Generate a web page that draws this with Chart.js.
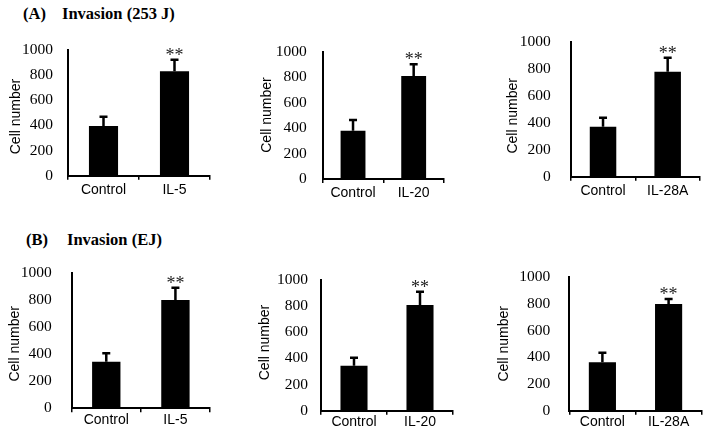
<!DOCTYPE html>
<html>
<head>
<meta charset="utf-8">
<script src="https://cdn.jsdelivr.net/npm/chart.js@4.4.0/dist/chart.umd.min.js"></script>
<style>
html, body { margin: 0; padding: 0; background: #fff; width: 706px; height: 433px; overflow: hidden; position: relative; }
.panel { position: absolute; }
.head { position: absolute; font: bold 16.5px "Liberation Serif", serif; color: #000; white-space: nowrap; line-height: 1; }
</style>
</head>
<body>
<div class="head" id="hA1" style="left:23px;top:6px"></div>
<div class="head" id="hA2" style="left:62px;top:6px"></div>
<div class="head" id="hB1" style="left:26px;top:232px"></div>
<div class="head" id="hB2" style="left:67px;top:232px"></div>
<script>
// data
const sectionLabels = ['(A)', '(B)'];
const sectionTitles = ['Invasion (253 J)', 'Invasion (EJ)'];
const categories = [
    ['Control', 'IL-5'], ['Control', 'IL-20'], ['Control', 'IL-28A'],
    ['Control', 'IL-5'], ['Control', 'IL-20'], ['Control', 'IL-28A']
];
const means = [[395, 831], [379, 810], [370, 778], [345, 802], [344, 809], [363, 800]];
const errors = [[74, 91], [84, 92], [67, 103], [62, 91], [61, 101], [72, 37]];
const stars = ['', '**'];
const yMax = 1000;
const yStep = 200;
const yTitle = 'Cell number';

// where each plot area sits on the page
const panels = [
    {left: 68, right: 210, top: 50, bottom: 175.7, titleX: 16, titleY: 116.5, gap: 15, xPad: 2},
    {left: 322.7, right: 444, top: 51.7, bottom: 179, titleX: 266.7, titleY: 115, gap: 16, xPad: 2},
    {left: 570.7, right: 700, top: 41.7, bottom: 176.7, titleX: 513, titleY: 115.8, gap: 20, xPad: 2},
    {left: 71.7, right: 210, top: 273.3, bottom: 408.3, titleX: 14.7, titleY: 343.8, gap: 20, xPad: -1},
    {left: 321, right: 453, top: 280, bottom: 410.7, titleX: 265, titleY: 342.5, gap: 13, xPad: -1},
    {left: 569.3, right: 701.7, top: 277.3, bottom: 410.7, titleX: 504.5, titleY: 343.8, gap: 19, xPad: -1}
];

document.getElementById('hA1').textContent = sectionLabels[0];
document.getElementById('hA2').textContent = sectionTitles[0];
document.getElementById('hB1').textContent = sectionLabels[1];
document.getElementById('hB2').textContent = sectionTitles[1];

const errorBars = {
    id: 'errorBars',
    afterDatasetsDraw(chart) {
        const ctx = chart.ctx;
        const y = chart.scales.y;
        const opts = chart.options.plugins.errorBars;
        const vals = chart.data.datasets[0].data;
        chart.getDatasetMeta(0).data.forEach((bar, i) => {
            const top = y.getPixelForValue(vals[i] + opts.errors[i]);
            ctx.save();
            ctx.strokeStyle = '#000';
            ctx.lineWidth = 2.5;
            ctx.beginPath();
            ctx.moveTo(bar.x, bar.y);
            ctx.lineTo(bar.x, top);
            ctx.moveTo(bar.x - 4, top);
            ctx.lineTo(bar.x + 4, top);
            ctx.stroke();
            if (opts.stars[i]) {
                ctx.fillStyle = '#222';
                ctx.font = '18px "Liberation Serif"';
                ctx.textAlign = 'center';
                ctx.textBaseline = 'alphabetic';
                ctx.fillText(opts.stars[i], bar.x, top + 1);
            }
            ctx.restore();
        });
    }
};

const axisTitle = {
    id: 'axisTitle',
    afterDraw(chart) {
        const o = chart.options.plugins.axisTitle;
        const ctx = chart.ctx;
        ctx.save();
        ctx.translate(o.x, o.y);
        ctx.rotate(-Math.PI / 2);
        ctx.fillStyle = '#000';
        ctx.font = '14px "Liberation Sans"';
        ctx.textAlign = 'center';
        ctx.textBaseline = 'middle';
        ctx.fillText(o.text, 0, 0);
        ctx.restore();
    }
};

panels.forEach((p, i) => {
    const cl = Math.round(p.titleX - 10);
    const ct = Math.round(p.top - 22);
    const cw = Math.ceil(p.right + 3 - cl);
    const ch = Math.min(Math.ceil(p.bottom + 26 - ct), 433 - ct);
    const wy = p.left - cl;
    const hx = ch - (p.bottom - ct);

    const box = document.createElement('div');
    box.className = 'panel';
    box.style.left = cl + 'px';
    box.style.top = ct + 'px';
    box.style.width = cw + 'px';
    box.style.height = ch + 'px';
    const canvas = document.createElement('canvas');
    canvas.width = cw;
    canvas.height = ch;
    box.appendChild(canvas);
    document.body.appendChild(box);

    new Chart(canvas, {
        type: 'bar',
        data: {
            labels: categories[i],
            datasets: [{
                data: means[i],
                backgroundColor: '#000',
                borderWidth: 0,
                barPercentage: 0.41,
                categoryPercentage: 1
            }]
        },
        options: {
            responsive: false,
            animation: false,
            layout: {padding: {top: p.top - ct, right: cw - (p.right - cl), left: 0, bottom: 0}},
            plugins: {
                legend: {display: false},
                tooltip: {enabled: false},
                errorBars: {errors: errors[i], stars: stars},
                axisTitle: {text: yTitle, x: p.titleX - cl, y: p.titleY - ct}
            },
            scales: {
                x: {
                    offset: true,
                    grid: {display: true, offset: true, drawOnChartArea: false, tickLength: 4, color: '#000', lineWidth: 1.5},
                    border: {display: true, color: '#000', width: 2},
                    ticks: {color: '#000', font: {family: 'Liberation Sans', size: 14}, padding: p.xPad, maxRotation: 0, autoSkip: false},
                    afterFit(s) { s.height = hx; }
                },
                y: {
                    min: 0,
                    max: yMax,
                    grid: {display: false, drawTicks: false},
                    border: {display: true, color: '#000', width: 2},
                    ticks: {stepSize: yStep, padding: p.gap, color: '#000', font: {family: 'Liberation Serif', size: 15.5}, callback: v => String(v)},
                    afterFit(s) {
                        s.width = wy;
                        s.paddingTop = 0;
                        s.paddingBottom = 0;
                    }
                }
            }
        },
        plugins: [errorBars, axisTitle]
    });
});
</script>
</body>
</html>
